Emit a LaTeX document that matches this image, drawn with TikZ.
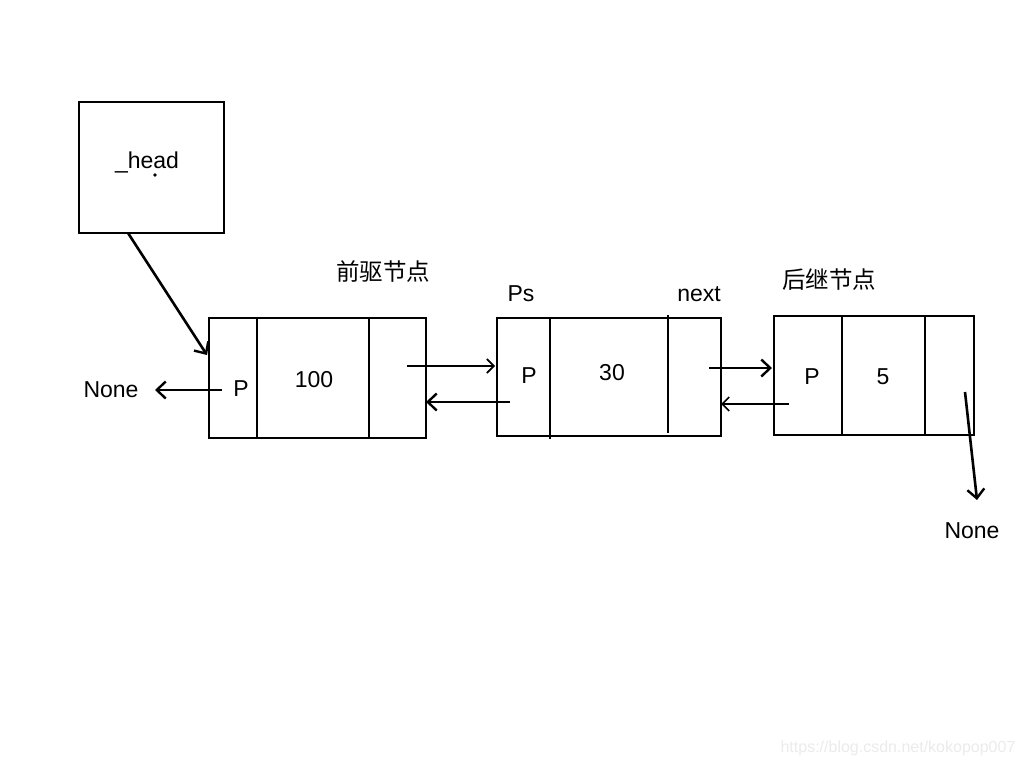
\documentclass[tikz,border=0pt]{standalone}
\usepackage{fontspec}
\setmainfont{Liberation Sans}
\newfontfamily\cjk{Noto Sans CJK SC}
\usetikzlibrary{arrows.meta}
\begin{document}
\begin{tikzpicture}[x=1pt,y=-1pt,
  box/.style={draw,line width=2pt,minimum width=#1,inner sep=0pt,anchor=north west},
  lbl/.style={font=\fontsize{23}{25}\selectfont},
  clbl/.style={font=\cjk\fontsize{23.5}{25}\selectfont},
  div/.style={line width=2pt},
  thin/.style={line width=1.4pt,-{Straight Barb[length=7pt,width=14pt,line width=1.7pt]}},
  ptrthick/.style={line width=2.6pt,-{Straight Barb[length=9pt,width=17pt,line width=2.4pt]}}]
\useasboundingbox (0,0) rectangle (1024,768);
\fill[white] (0,0) rectangle (1024,768);
% head box
\node[box=145pt,minimum height=131pt] (head) at (78,101) {};
\node[lbl] (headtxt) at (147,162) {\_head};
\fill (155,175) circle (1.8pt);
% node 1
\node[box=217pt,minimum height=120pt] (n1) at (208,317) {};
\draw[div] (257,317) -- (257,437);
\draw[line width=2.6pt] (369,317) -- (369,437);
\node[lbl] (p1) at (241,389) {P};
\node[lbl] (v1) at (314,380) {100};
% node 2
\node[box=224pt,minimum height=118pt] (n2) at (496,317) {};
\draw[line width=2.6pt] (550,317) -- (550,439);
\draw[line width=2.6pt] (668,315) -- (668,433);
\node[lbl] (p2) at (529,376) {P};
\node[lbl] (v2) at (612,373) {30};
\node[lbl] (ps) at (521,294) {Ps};
\node[lbl] (nx) at (699,294) {next};
% node 3
\node[box=200pt,minimum height=119pt] (n3) at (773,315) {};
\draw[line width=2.6pt] (842,315) -- (842,434);
\draw[line width=2.6pt] (925,315) -- (925,435);
\node[lbl] (p3) at (812,377) {P};
\node[lbl] (v3) at (883,377) {5};
% labels
\node[clbl] (prev) at (383,271) {前驱节点};
\node[clbl] (succ) at (829,280) {后继节点};
\node[lbl] (none1) at (111,390) {None};
\node[lbl] (none2) at (972,531) {None};
\node[font=\fontsize{16}{18}\selectfont,text=black!8] (wm) at (898,748) {https://blog.csdn.net/kokopop007};
% connector ends
\coordinate (h0) at (128,233);
\coordinate (h1) at (207,355);
\coordinate (a0) at (222,390);
\coordinate (a1) at (155,390);
\coordinate (b0) at (407,366);
\coordinate (b1) at (495,366);
\coordinate (c0) at (510,402);
\coordinate (c1) at (426,402);
\coordinate (d0) at (709,368);
\coordinate (d1) at (772,368);
\coordinate (e0) at (789,404);
\coordinate (e1) at (721,404);
\coordinate (f0) at (965,392);
\coordinate (f1) at (977,500);
\draw[ptrthick] (h0) -- (h1);
\draw[ptrthick] (a0) -- (a1);
\draw[thin] (b0) -- (b1);
\draw[ptrthick] (c0) -- (c1);
\draw[ptrthick] (d0) -- (d1);
\draw[thin] (e0) -- (e1);
\draw[ptrthick] (f0) -- (f1);
\end{tikzpicture}
\end{document}
